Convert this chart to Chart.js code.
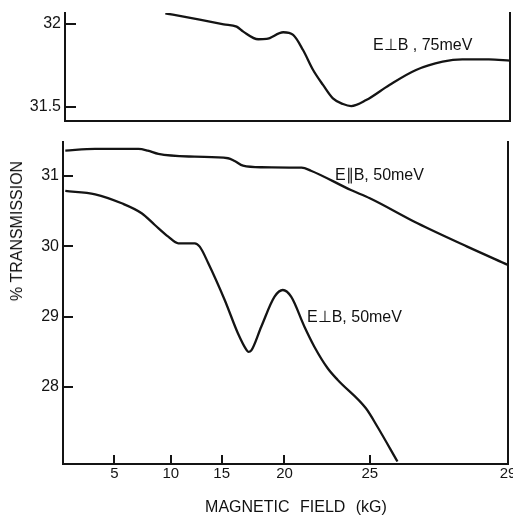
<!DOCTYPE html>
<html>
<head>
<meta charset="utf-8">
<script src="https://cdn.jsdelivr.net/npm/chart.js@4.4.1/dist/chart.umd.min.js"></script>
<style>
  html, body { margin: 0; padding: 0; width: 513px; height: 521px; overflow: hidden; background: #fff; }
  #fig { position: relative; width: 513px; height: 521px; font-family: "Liberation Sans", Arial, sans-serif; color: #111; }
  #fig canvas { position: absolute; left: 0; }
  #painelTopo { top: 0; }
  #painelBaixo { top: 130px; }
  .rotulo { position: absolute; font-size: 16px; line-height: 1; white-space: nowrap; }
  #tituloX { left: 296px; top: 499px; font-size: 16px; word-spacing: 6px; transform: translateX(-50%); }
  #tituloY { left: 17px; top: 231px; font-size: 16px; transform: translate(-50%, -50%) rotate(-90deg); }
</style>
</head>
<body>
<div id="fig">
  <canvas id="painelTopo" width="530" height="130"></canvas>
  <canvas id="painelBaixo" width="530" height="391"></canvas>
  <div class="rotulo" style="left:373px; top:37px;">E⊥B , 75meV</div>
  <div class="rotulo" style="left:335px; top:167px;">E∥B, 50meV</div>
  <div class="rotulo" style="left:307px; top:309px;">E⊥B, 50meV</div>
  <div class="rotulo" id="tituloX">MAGNETIC FIELD (kG)</div>
  <div class="rotulo" id="tituloY">% TRANSMISSION</div>
</div>
<script>
// field axis of the original is not evenly spaced, so the scale follows the drawn ticks
const fieldTicks = [5, 10, 15, 20, 25, 29];
const axisKnots = [0.5, 5, 10, 15, 20, 25, 29];
const axisKnotFrac = [0, 0.1157, 0.2424, 0.3566, 0.4977, 0.6895, 1];

// E perp B, 75 meV (upper panel)
const fieldTop = [9.33, 10, 15, 16.03, 16.56, 17.75, 18.41, 19.74, 20.39, 20.97, 21.56, 22.14, 22.72, 23.31, 23.79, 24.67, 25.51, 26.28, 27.05, 27.62, 28.39, 29.0];
const transTop = [32.064, 32.056, 31.998, 31.984, 31.954, 31.908, 31.910, 31.950, 31.934, 31.843, 31.723, 31.633, 31.552, 31.518, 31.506, 31.542, 31.633, 31.723, 31.773, 31.787, 31.787, 31.779];
const transTicksTop = [31.5, 32];

// E par B, 50 meV
const fieldPar = [0.7, 3.31, 7.12, 7.95, 8.89, 12.35, 15.51, 16.03, 16.70, 18.16, 21.0, 21.55, 23.89, 25, 26.38, 27.82, 29.0];
const transPar = [31.36, 31.384, 31.384, 31.36, 31.313, 31.274, 31.252, 31.213, 31.146, 31.124, 31.118, 31.075, 30.80, 30.683, 30.327, 29.995, 29.735];

// E perp B, 50 meV
const fieldPerp = [0.7, 3.31, 5.64, 7.41, 8.58, 9.77, 10.73, 12.35, 12.84, 13.67, 15.24, 16.30, 16.96, 17.12, 17.36, 18.15, 19.21, 19.87, 20.39, 21.17, 21.75, 22.53, 23.12, 24.77, 25.22, 25.80];
const transPerp = [30.787, 30.74, 30.612, 30.47, 30.303, 30.137, 30.043, 30.043, 29.995, 29.763, 29.237, 28.76, 28.53, 28.50, 28.52, 28.857, 29.284, 29.379, 29.284, 28.857, 28.573, 28.266, 28.10, 27.697, 27.435, 26.94];
const transTicksBottom = [28, 29, 30, 31];

const fonte = '"Liberation Sans", Arial, sans-serif';
const tinta = '#141414';

function fieldToFrac(v) {
  for (let i = 1; i < axisKnots.length; i++) {
    if (v <= axisKnots[i] || i === axisKnots.length - 1) {
      const a = axisKnots[i - 1], b = axisKnots[i];
      return axisKnotFrac[i - 1] + (v - a) / (b - a) * (axisKnotFrac[i] - axisKnotFrac[i - 1]);
    }
  }
}

function fracToField(f) {
  for (let i = 1; i < axisKnotFrac.length; i++) {
    if (f <= axisKnotFrac[i] || i === axisKnotFrac.length - 1) {
      const a = axisKnotFrac[i - 1], b = axisKnotFrac[i];
      return axisKnots[i - 1] + (f - a) / (b - a) * (axisKnots[i] - axisKnots[i - 1]);
    }
  }
}

class FieldScale extends Chart.LinearScale {
  static id = 'field';
  buildTicks() {
    return fieldTicks.map(v => ({ value: v }));
  }
  getPixelForValue(v) {
    if (v === null || v === undefined || isNaN(v)) return NaN;
    return this.getPixelForDecimal(fieldToFrac(v));
  }
  getValueForPixel(p) {
    return fracToField(this.getDecimalForPixel(p));
  }
}
Chart.register(FieldScale);

function pontos(xs, ys) {
  return xs.map((x, i) => ({ x: x, y: ys[i] }));
}

function semPadding(s) {
  s.paddingTop = 0;
  s.paddingBottom = 0;
  s.paddingLeft = 0;
  s.paddingRight = 0;
}

function curva(xs, ys) {
  return {
    data: pontos(xs, ys),
    borderColor: tinta,
    borderWidth: 2.3,
    pointRadius: 0,
    fill: false,
    cubicInterpolationMode: 'monotone'
  };
}

const eixoDireito = {
  position: 'right',
  min: 0,
  max: 1,
  ticks: { display: false },
  grid: { display: false, drawTicks: false },
  border: { color: tinta, width: 2 },
  afterFit: s => { s.width = 0; semPadding(s); }
};

new Chart(document.getElementById('painelTopo'), {
  type: 'line',
  data: { datasets: [curva(fieldTop, transTop)] },
  options: {
    responsive: false,
    animation: false,
    layout: { padding: { top: 13, left: 0, right: 20, bottom: 0 } },
    plugins: { legend: { display: false }, tooltip: { enabled: false } },
    scales: {
      x: {
        type: 'field',
        min: 0.5,
        max: 29,
        ticks: { display: false },
        grid: { display: false, drawTicks: false },
        border: { color: tinta, width: 2 },
        afterFit: s => { s.height = 9; semPadding(s); }
      },
      y: {
        min: 31.416,
        max: 32.066,
        afterBuildTicks: s => { s.ticks = transTicksTop.map(v => ({ value: v })); },
        ticks: { font: { family: fonte, size: 16 }, color: tinta, padding: 15, callback: v => String(v) },
        grid: { drawOnChartArea: false, tickLength: -11, color: tinta, lineWidth: 2 },
        border: { color: tinta, width: 2 },
        afterFit: s => { s.width = 65; semPadding(s); }
      },
      yr: eixoDireito
    }
  }
});

new Chart(document.getElementById('painelBaixo'), {
  type: 'line',
  data: { datasets: [curva(fieldPar, transPar), curva(fieldPerp, transPerp)] },
  options: {
    responsive: false,
    animation: false,
    layout: { padding: { top: 12, left: 0, right: 22, bottom: 0 } },
    plugins: { legend: { display: false }, tooltip: { enabled: false } },
    scales: {
      x: {
        type: 'field',
        min: 0.5,
        max: 29,
        ticks: { font: { family: fonte, size: 15 }, color: tinta, padding: 10, maxRotation: 0, autoSkip: false, callback: v => String(v) },
        grid: { drawOnChartArea: false, tickLength: -9, color: tinta, lineWidth: 2 },
        border: { color: tinta, width: 2 },
        afterFit: s => { s.height = 57; semPadding(s); }
      },
      y: {
        min: 26.905,
        max: 31.483,
        afterBuildTicks: s => { s.ticks = transTicksBottom.map(v => ({ value: v })); },
        ticks: { font: { family: fonte, size: 16 }, color: tinta, padding: 14, callback: v => String(v) },
        grid: { drawOnChartArea: false, tickLength: -10, color: tinta, lineWidth: 2 },
        border: { color: tinta, width: 2 },
        afterFit: s => { s.width = 63; semPadding(s); }
      },
      yr: eixoDireito
    }
  }
});
</script>
</body>
</html>
